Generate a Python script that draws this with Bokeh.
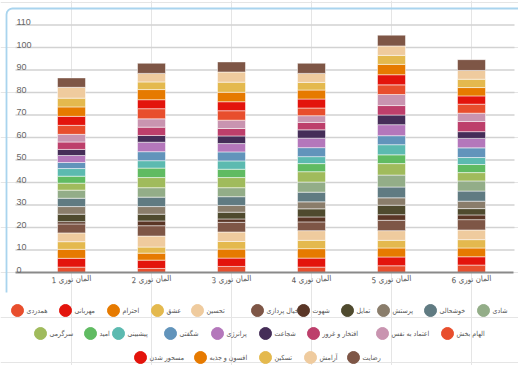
from bokeh.plotting import figure
from bokeh.models import ColumnDataSource, Range1d
from bokeh.core.properties import value
from bokeh.embed import file_html
from bokeh.resources import INLINE

# ---- data -------------------------------------------------------------
categories = ["المان نوری 1", "المان نوری 2", "المان نوری 3",
              "المان نوری 4", "المان نوری 5", "المان نوری 6"]

# emotions in stacking order (bottom -> top)
emotions = ["همدردی", "مهربانی", "احترام", "عشق", "تحسین", "خیال پردازی",
            "شهوت", "تمایل", "پرستش", "خوشحالی", "شادی", "سرگرمی", "امید",
            "پیشبینی", "شگفتی", "پرانرژی", "شجاعت", "افتخار و غرور",
            "اعتماد به نفس", "الهام بخش", "مسحور شدن", "افسون و جذبه",
            "تسکین", "آرامش", "رضایت"]

colors = ["#e84e2d", "#e3140c", "#e67a00", "#e4b94e", "#efcb9e", "#7e5646",
          "#5a3626", "#4f4a2e", "#8a7d6b", "#607b82", "#93ad88", "#a0bb5c",
          "#60bb62", "#5cbab0", "#6294bb", "#b477bb", "#452d58", "#bd3f6b",
          "#c994b0", "#e84e2d", "#e3140c", "#e67a00", "#e4b94e", "#efcb9e",
          "#7e5646"]

element_1 = [2.4, 3.9, 4.0, 3.4, 3.9, 4.0, 1.0, 3.3, 3.4, 3.7, 3.6, 3.1, 3.1,
             3.4, 2.7, 3.1, 2.7, 3.3, 3.4, 4.0, 4.0, 4.2, 3.9, 4.8, 4.2]
element_2 = [1.8, 3.7, 3.1, 2.7, 4.9, 4.6, 2.1, 3.0, 3.4, 4.2, 4.2, 4.5, 4.2,
             3.3, 4.0, 4.2, 3.0, 3.7, 3.7, 4.5, 4.0, 4.5, 3.4, 3.8, 4.5]
element_3 = [2.7, 3.7, 4.0, 3.4, 4.2, 4.3, 1.5, 3.0, 3.0, 3.9, 4.0, 4.5, 3.7,
             3.7, 4.0, 3.7, 3.4, 3.3, 3.7, 4.2, 4.0, 4.2, 4.5, 4.5, 4.5]
element_4 = [2.4, 4.0, 4.2, 3.7, 4.3, 3.9, 2.2, 3.6, 3.1, 4.3, 4.5, 4.6, 3.6,
             3.1, 4.0, 4.2, 3.7, 3.3, 3.0, 3.4, 4.0, 4.0, 3.4, 4.0, 4.5]
element_5 = [3.0, 3.9, 4.0, 3.4, 4.3, 4.6, 2.5, 4.2, 3.3, 4.8, 5.3, 5.1, 3.9,
             4.5, 4.0, 4.9, 4.3, 4.2, 4.9, 4.3, 4.5, 4.6, 4.0, 4.2, 4.8]
element_6 = [3.3, 3.7, 3.9, 3.7, 4.3, 4.6, 2.1, 2.8, 3.3, 4.5, 4.5, 3.7, 3.6,
             3.1, 4.3, 4.2, 3.0, 4.5, 3.7, 4.0, 3.7, 3.7, 3.7, 3.9, 4.8]

y_ticks = [0, 10, 20, 30, 40, 50, 60, 70, 80, 90, 100, 110]

# ---- layout (pixels) --------------------------------------------------
W, H = 518, 365
BAR_PX0, BAR_STEP = 71, 80        # centre of first bar, distance between bars
ZERO_PX, UNIT_PX = 272, 2.25      # pixel row of value 0, pixels per unit
GRID_LEFT, GRID_RIGHT = 15, 514
LABEL_ROW = 279
legend_rows_x = [[17, 65, 113, 157, 197, 257, 303, 347, 383, 430, 483],
                 [40, 90, 118, 170, 217, 265, 313, 382, 447],
                 [140, 200, 265, 310, 353]]
legend_rows_y = [310, 333, 357]

elements = [element_1, element_2, element_3, element_4, element_5, element_6]
x_pos = list(range(1, len(categories) + 1))

x_range = Range1d(1 - BAR_PX0 / BAR_STEP, 1 + (W - BAR_PX0) / BAR_STEP)
y_range = Range1d(-(H - ZERO_PX) / UNIT_PX, ZERO_PX / UNIT_PX)

p = figure(width=W, height=H, x_range=x_range, y_range=y_range,
           output_backend="svg", toolbar_location=None, title=None,
           x_axis_location=None, y_axis_location=None,
           min_border=0, min_border_left=0, min_border_right=0,
           min_border_top=0, min_border_bottom=0)
p.extra_x_ranges = {"px": Range1d(0, W)}
p.extra_y_ranges = {"px": Range1d(H, 0)}
p.outline_line_color = None
p.background_fill_color = "white"
p.border_fill_color = "white"

# card border
p.line(x=[6, 6, 6.5, 8, 10, 12, W], y=[292, 14, 11.5, 9.5, 8.4, 8, 8],
       x_range_name="px", y_range_name="px", line_color="#a9d4ee", line_width=1.8)

# horizontal grid lines
grid_src = ColumnDataSource(dict(y=y_ticks[1:]))
p.segment(x0=GRID_LEFT, x1=GRID_RIGHT, y0="y", y1="y", source=grid_src,
          x_range_name="px", line_color="#d2d2d2", line_width=1.3)

# stacked bars
keys = [f"s{i}" for i in range(len(emotions))]
data = dict(x=x_pos)
for i, k in enumerate(keys):
    data[k] = [el[i] for el in elements]
bar_src = ColumnDataSource(data)
p.vbar_stack(keys, x="x", width=0.35, color=colors, line_color="white",
             line_width=0.5, source=bar_src)

# base line
p.segment(x0=GRID_LEFT, x1=GRID_RIGHT - 1, y0=0, y1=0, x_range_name="px",
          line_color="#8a8a8a", line_width=2)

# y tick labels, sitting on their grid lines
ylab_src = ColumnDataSource(dict(y=y_ticks, label=[str(t) for t in y_ticks]))
p.text(x=16, y="y", text="label", source=ylab_src, x_range_name="px",
       text_baseline="bottom", text_align="left", text_font=value("Liberation Sans"),
       text_font_size="9px", text_color="#666666")

# category labels
cat_src = ColumnDataSource(dict(x=x_pos, label=categories))
p.text(x="x", y=LABEL_ROW, text="label", source=cat_src, y_range_name="px",
       text_align="center", text_baseline="middle", angle=0.06,
       text_font=value("DejaVu Sans Condensed"), text_font_size="8px",
       text_color="#555555")

# legend
lx, ly = [], []
for row_x, row_y in zip(legend_rows_x, legend_rows_y):
    lx.extend(row_x)
    ly.extend([row_y] * len(row_x))
leg_src = ColumnDataSource(dict(x=lx, y=ly, color=colors, label=emotions))
p.scatter(x="x", y="y", size=12, color="color", source=leg_src,
          x_range_name="px", y_range_name="px")
p.text(x="x", y="y", text="label", source=leg_src, x_offset=9,
       x_range_name="px", y_range_name="px", text_align="left",
       text_baseline="middle", text_font=value("DejaVu Sans Condensed"),
       text_font_size="7px", text_color="#555555")

open("out.html", "w").write(file_html(p, INLINE))
